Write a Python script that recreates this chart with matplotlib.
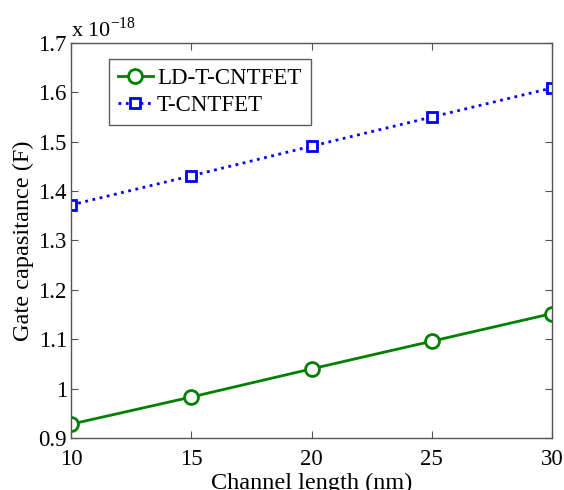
import matplotlib
matplotlib.use('Agg')
import matplotlib.pyplot as plt
from matplotlib.ticker import FuncFormatter

plt.rcParams['font.family'] = 'Liberation Serif'
plt.rcParams['mathtext.fontset'] = 'custom'
plt.rcParams['mathtext.rm'] = 'Liberation Serif'

# channel length (nm) and gate capacitance in units of 1e-18 F
length = [10, 15, 20, 25, 30]
cg_ld = [0.928, 0.983, 1.040, 1.096, 1.152]
cg_t = [1.372, 1.431, 1.491, 1.550, 1.609]

fig = plt.figure(figsize=(5.64, 4.9), dpi=100)
ax = fig.add_axes([71/564, 52/490, 481/564, 395/490])

ax.plot(length, cg_ld, '-o', color='#008000', lw=2, ms=10, mew=2,
        mfc='white', label='LD-T-CNTFET')
ax.plot(length, cg_t, ':s', color='#0000ff', lw=2, ms=7, mew=2,
        mfc='white', label='T-CNTFET')

ax.set_xlim(10, 30)
ax.set_ylim(0.9, 1.7)
ax.set_xticks(length)
ax.set_yticks([0.9, 1.0, 1.1, 1.2, 1.3, 1.4, 1.5, 1.6, 1.7])
ax.yaxis.set_major_formatter(FuncFormatter(lambda v, p: '%g' % round(v, 2)))
ax.tick_params(direction='in', top=True, right=True, labelsize=16.5,
               length=5, width=0.8, color='#555555')
ax.tick_params(axis='x', pad=8)
ax.tick_params(axis='y', pad=3)
for s in ax.spines.values():
    s.set_color('#555555')
    s.set_linewidth(1.0)

ax.set_xlabel('Channel length (nm)', fontsize=17.5, labelpad=2)
ax.set_ylabel('Gate capasitance (F)', fontsize=17.5)
ax.yaxis.set_label_coords(-0.077, 0.5)
# exponent multiplier drawn above the y axis
ax.text(0.0, 1.004, r'x 10$^{-18}$', transform=ax.transAxes, fontsize=16,
        ha='left', va='bottom')

leg = ax.legend(loc='upper left', bbox_to_anchor=(0.079, 0.9595), fontsize=16.5,
                frameon=True, fancybox=False, edgecolor='#333333',
                handlelength=1.5, handletextpad=0.2, borderpad=0.4,
                borderaxespad=0, labelspacing=0.25)
leg.get_frame().set_linewidth(1.0)

fig.savefig('out.png', dpi=100)
